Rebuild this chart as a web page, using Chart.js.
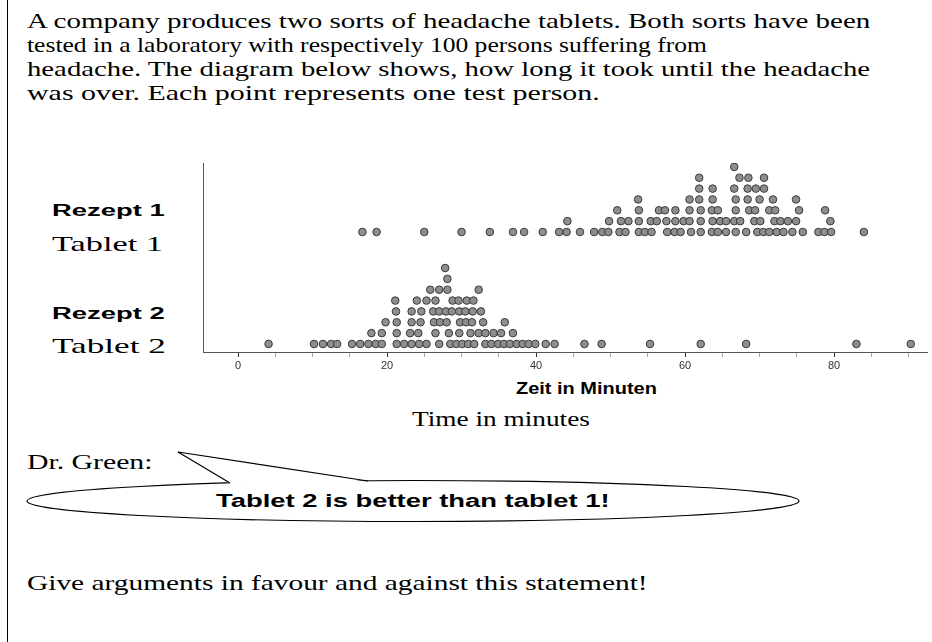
<!DOCTYPE html>
<html>
<head>
<meta charset="utf-8">
<script src="https://cdn.jsdelivr.net/npm/chart.js@4.4.1/dist/chart.umd.min.js"></script>
<style>
  html, body { margin: 0; padding: 0; background: #fff; }
  #page { position: relative; width: 932px; height: 642px; overflow: hidden; background: #fff; }
  .t { position: absolute; white-space: nowrap; transform-origin: 0 50%; color: #000; }
  .serif { font-family: "Liberation Serif", "Times New Roman", serif; font-size: 21px; line-height: 24px; }
  .sans { font-family: "Liberation Sans", Arial, sans-serif; font-weight: bold; font-size: 16px; line-height: 20px; }
  #marco { position: absolute; left: 7px; top: 0; width: 1px; height: 642px; background: #000; }
  #grafica { position: absolute; left: 0; top: 150px; }
  svg { position: absolute; left: 0; top: 0; }
</style>
</head>
<body>
<div id="page">
  <div id="marco"></div>

  <div class="t serif" data-x="27" data-y="21" data-w="843">A company produces two sorts of headache tablets. Both sorts have been</div>
  <div class="t serif" data-x="27" data-y="45" data-w="680">tested in a laboratory with respectively 100 persons suffering from</div>
  <div class="t serif" data-x="27" data-y="69" data-w="843">headache. The diagram below shows, how long it took until the headache</div>
  <div class="t serif" data-x="27" data-y="93" data-w="573">was over. Each point represents one test person.</div>

  <div class="t sans" data-x="52" data-y="211" data-w="113">Rezept 1</div>
  <div class="t serif" data-x="52" data-y="244" data-w="111">Tablet 1</div>
  <div class="t sans" data-x="52" data-y="314" data-w="113">Rezept 2</div>
  <div class="t serif" data-x="52" data-y="346" data-w="114">Tablet 2</div>

  <div class="t sans" data-x="516" data-y="389" data-w="141">Zeit in Minuten</div>
  <div class="t serif" data-x="412" data-y="419" data-w="178">Time in minutes</div>

  <div class="t serif" data-x="27" data-y="462" data-w="126">Dr. Green:</div>

  <svg width="932" height="642">
    <ellipse cx="413" cy="501" rx="386" ry="20.5" fill="#fff" stroke="#000" stroke-width="1.2"/>
    <polygon points="178,452 230,484 368,482" fill="#fff" stroke="none"/>
    <polyline points="230,483 178,452 368,481" fill="none" stroke="#000" stroke-width="1.2"/>
  </svg>
  <div class="t sans" style="font-size:18px" data-x="216" data-y="501" data-w="394">Tablet 2 is better than tablet 1!</div>

  <div class="t serif" data-x="27" data-y="583" data-w="620">Give arguments in favour and against this statement!</div>

  <canvas id="grafica" width="932" height="226"></canvas>
</div>

<script>
// minutos hasta que paso el dolor, un valor por persona
const categorias = ['Tablet 1', 'Tablet 2'];

const tablet1Min = [
  16.7, 18.6, 25.0, 30.0, 33.8, 36.9, 38.4, 40.9, 43.1, 44.1, 45.9, 47.8, 48.9, 49.7, 51.2, 52.0,
  53.8, 54.6, 55.5, 57.6, 58.6, 59.4, 60.8, 62.1, 63.6, 64.4, 65.5, 66.8, 68.2, 69.7, 70.5, 71.3,
  72.3, 73.2, 74.4, 75.8, 77.9, 78.7, 79.6, 84.0,
  44.2, 49.8, 51.4, 52.4, 53.8, 55.4, 56.2, 57.5, 58.7, 59.8, 60.6, 62.1, 63.7, 64.7, 65.5, 66.6,
  67.4, 69.3, 70.1, 72.0, 72.8, 73.8, 74.9, 79.5,
  50.9, 53.8, 56.5, 57.3, 58.7, 60.6, 62.1, 63.6, 64.4, 66.8, 68.6, 69.4, 71.3, 72.1, 75.3, 78.8,
  53.7, 60.6, 61.9, 63.7, 66.8, 68.4, 70.0, 71.8, 74.9,
  61.9, 63.7, 66.6, 68.4, 69.5, 70.6,
  61.9, 67.3, 68.5, 70.6,
  66.6
];

const tablet2Min = [
  4.1, 10.2, 11.4, 12.5, 13.3, 15.3, 16.4, 17.5, 18.5, 19.3, 21.3, 22.3, 23.3, 24.3, 25.3, 27.0,
  28.5, 29.3, 30.1, 30.9, 31.7, 33.2, 34.0, 34.9, 35.7, 36.5, 37.4, 38.2, 39.0, 39.9, 41.3, 42.5,
  46.5, 48.8, 55.3, 62.1, 68.2, 83.0, 90.3,
  17.9, 19.3, 21.3, 23.1, 24.2, 26.5, 28.3, 29.7, 31.2, 32.3, 33.2, 34.3, 35.3, 36.9,
  19.8, 21.3, 23.3, 24.5, 26.3, 27.1, 28.0, 29.8, 30.6, 31.4, 32.9, 35.8,
  21.2, 23.3, 24.6, 26.2, 27.0, 27.9, 28.7, 29.7, 30.5, 31.5, 32.6,
  21.1, 24.0, 25.3, 26.5, 28.8, 29.6, 30.7, 31.6,
  25.8, 27.0, 28.1, 32.3,
  28.1,
  27.8
];

const ticksMayores = [0, 20, 40, 60, 80];

// textos: se estiran a lo ancho como en el original
document.querySelectorAll('.t').forEach(function (el) {
  const lh = parseFloat(getComputedStyle(el).lineHeight);
  el.style.left = el.dataset.x + 'px';
  el.style.top = (el.dataset.y - lh / 2) + 'px';
  const s = el.dataset.w / el.offsetWidth;
  el.style.transform = 'scaleX(' + s + ')';
});

// apila los puntos: cada punto cae encima del punto mas alto que toca
function apilar(valores, base) {
  const puestos = [];
  return valores.map(function (v) {
    let fila = 0;
    puestos.forEach(function (p) {
      if (Math.round(Math.abs(p.v - v) * 10) < 8) fila = Math.max(fila, p.fila + 1);
    });
    puestos.push({ v: v, fila: fila });
    return { x: v, y: base + fila };
  });
}

const estiloPunto = {
  pointRadius: 3.8,
  pointHoverRadius: 3.8,
  pointBorderWidth: 1,
  pointBackgroundColor: '#8e8e8e',
  pointBorderColor: '#3a3a3a'
};

const ctx = document.getElementById('grafica').getContext('2d');
new Chart(ctx, {
  type: 'scatter',
  data: {
    datasets: [
      Object.assign({ label: categorias[0], data: apilar(tablet1Min, 10.32) }, estiloPunto),
      Object.assign({ label: categorias[1], data: apilar(tablet2Min, 0) }, estiloPunto)
    ]
  },
  options: {
    responsive: false,
    animation: false,
    devicePixelRatio: 1,
    layout: { padding: { left: 203, top: 13, right: 0, bottom: 0 } },
    plugins: { legend: { display: false }, tooltip: { enabled: false } },
    scales: {
      x: {
        type: 'linear',
        min: -4.7,
        max: 92.5,
        afterFit: function (s) { s.height = 24; },
        border: { display: true, color: '#555', width: 1 },
        grid: {
          drawOnChartArea: false,
          drawTicks: true,
          tickLength: 5,
          tickColor: function (c) { return c.tick && ticksMayores.includes(c.tick.value) ? '#333' : '#aaa'; }
        },
        ticks: {
          stepSize: 5,
          includeBounds: false,
          autoSkip: false,
          maxRotation: 0,
          padding: 2,
          color: '#333',
          font: { family: 'Liberation Sans', size: 11 },
          callback: function (v) { return ticksMayores.includes(v) ? v : ''; }
        }
      },
      y: {
        type: 'linear',
        min: -0.74,
        max: 16.68,
        afterFit: function (s) { s.width = 0; },
        ticks: { display: false },
        grid: { display: false },
        border: { display: true, color: '#555', width: 1 }
      }
    }
  }
});
</script>
</body>
</html>
